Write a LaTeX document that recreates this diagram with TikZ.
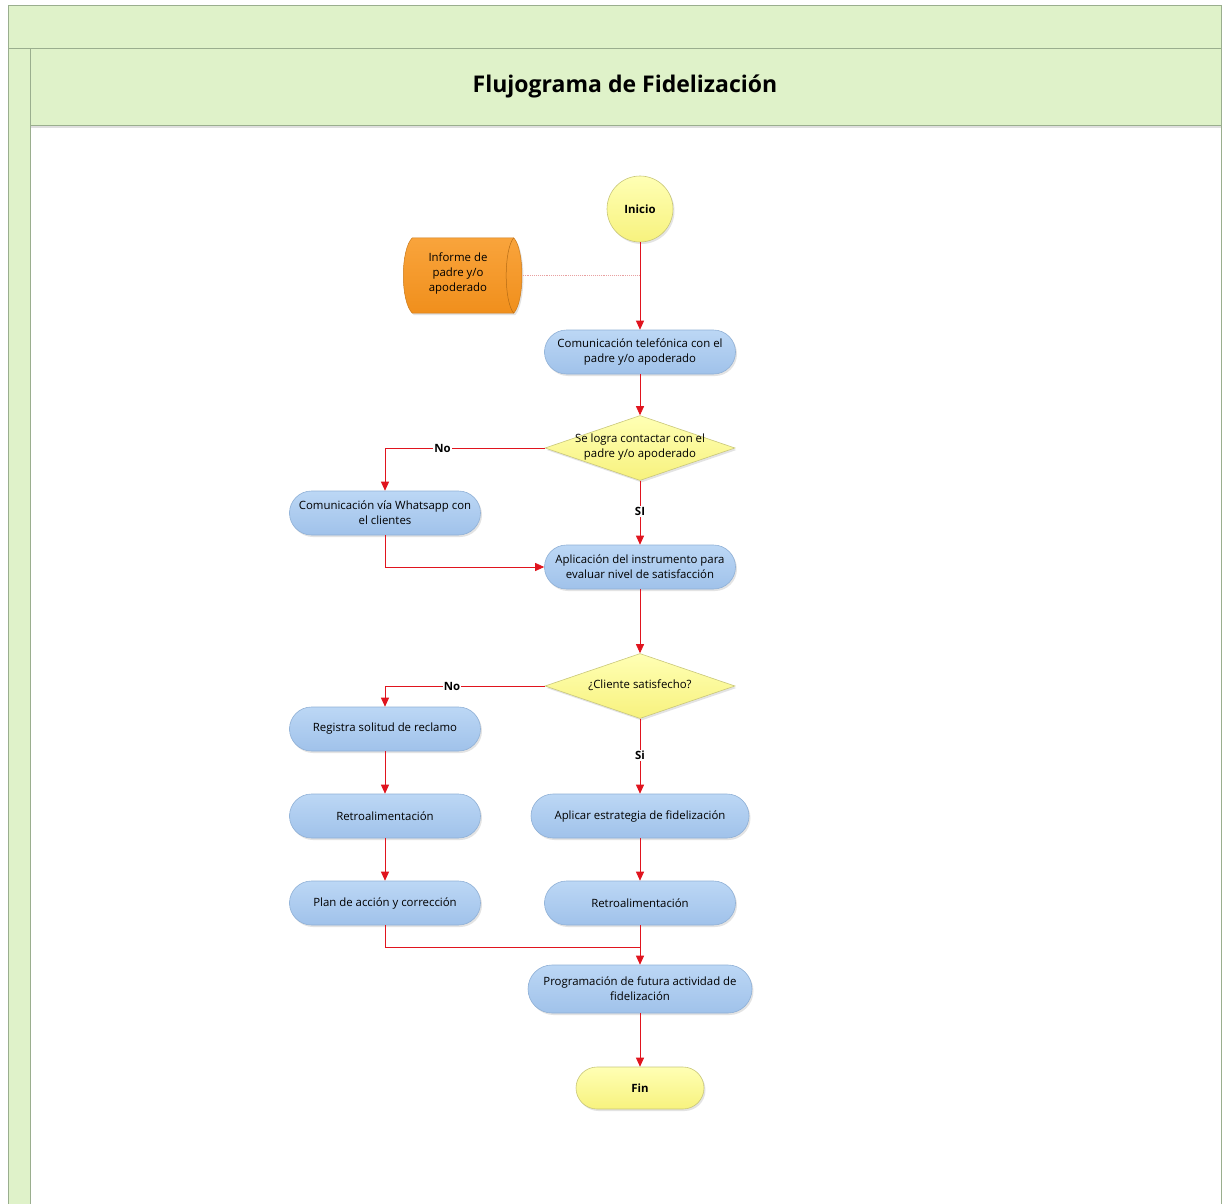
\documentclass[tikz,border=0pt]{standalone}
\usepackage{fontspec}
\setmainfont{Open Sans}
\usetikzlibrary{shapes.geometric,arrows.meta,shadows,calc}

\definecolor{bandfill}{HTML}{DFF2C9}
\definecolor{bandline}{HTML}{9AAE8E}
\definecolor{blueT}{HTML}{BCD7F5}
\definecolor{blueB}{HTML}{A0C2EA}
\definecolor{blueline}{HTML}{8FB0D6}
\definecolor{yelT}{HTML}{FFFFB4}
\definecolor{yelB}{HTML}{F7F27E}
\definecolor{yelline}{HTML}{C9C77A}
\definecolor{orT}{HTML}{F9A43C}
\definecolor{orB}{HTML}{F08F1C}
\definecolor{flowred}{HTML}{E0141E}
\definecolor{dotpink}{HTML}{E8A0A0}

\newcommand{\boxfont}{\fontsize{11.4}{15}\selectfont}

\tikzset{
  softshadow/.style={drop shadow={opacity=0.22, shadow xshift=1.5pt, shadow yshift=-2pt}},
  procbox/.style={rectangle, rounded corners=22pt, minimum width=191pt, minimum height=44pt,
    top color=blueT, bottom color=blueB, draw=blueline, line width=0.6pt, softshadow,
    align=center, font=\boxfont, inner sep=2pt},
  termbox/.style={rectangle, rounded corners=21pt, minimum width=128pt, minimum height=42pt,
    top color=yelT, bottom color=yelB, draw=yelline, line width=0.6pt, softshadow,
    font=\boxfont\bfseries},
  startcirc/.style={circle, minimum size=66pt, inner sep=0pt,
    top color=yelT, bottom color=yelB, draw=yelline, line width=0.6pt, softshadow,
    font=\boxfont\bfseries},
  decision/.style={diamond, minimum width=190pt, minimum height=65pt, inner sep=0pt,
    top color=yelT, bottom color=yelB, draw=yelline, line width=0.6pt, softshadow},
  dtext/.style={align=center, font=\boxfont, inner sep=0pt},
  flow/.style={draw=flowred, line width=0.8pt, -{Triangle[width=8pt,length=9pt]}},
  plainflow/.style={draw=flowred, line width=0.8pt},
  dotlink/.style={draw=dotpink, line width=0.9pt, densely dotted},
  lbl/.style={fill=white, inner sep=1pt, font=\boxfont\bfseries},
}

\begin{document}
\begin{tikzpicture}[x=1pt,y=-1pt]
\useasboundingbox (0,0) rectangle (1226,1204);

% swimlane frame
\fill[white] (0,0) rectangle (1226,1204);
\fill[bandfill] (8,5) rectangle (1221,48);
\fill[bandfill] (8,48) rectangle (30,1204);
\fill[gray!25] (30,125) rectangle (1221,128);
\fill[bandfill] (30,48) rectangle (1221,125);
\draw[bandline, line width=0.8pt] (8,1204) -- (8,5) -- (1221,5) -- (1221,1204);
\draw[bandline, line width=0.8pt] (8,48) -- (1221,48);
\draw[bandline, line width=0.8pt] (30,1204) -- (30,48);
\draw[bandline, line width=0.8pt] (30,125) -- (1221,125);
\node[font=\fontsize{23}{27}\selectfont\bfseries] (title) at (625,86) {Flujograma de Fidelización};

% nodes
\node[startcirc] (inicio) at (640,209) {Inicio};

\node[minimum width=120pt, minimum height=75pt, inner sep=0pt] (store) at (462.5,275.5) {};
\path[top color=orT, bottom color=orB, draw=orB!85!black, line width=0.5pt, softshadow]
  ($(store.north west)+(10,0)$) -- ($(store.north east)+(-9,0)$)
  .. controls ($(store.north east)+(2,12)$) and ($(store.south east)+(2,-12)$) .. ($(store.south east)+(-9,0)$)
  -- ($(store.south west)+(10,0)$)
  .. controls ($(store.south west)+(-2,-12)$) and ($(store.north west)+(-2,12)$) .. cycle;
\draw[orB!75!black, line width=0.5pt]
  ($(store.north east)+(-9,0)$) .. controls ($(store.north east)+(-19,12)$) and ($(store.south east)+(-19,-12)$) .. ($(store.south east)+(-9,0)$);
\node[align=center, font=\boxfont, inner sep=0pt] (storetxt) at (458,274) {Informe de\\padre y/o\\apoderado};

\node[procbox] (tel) at (640,352) {Comunicación telefónica con el\\padre y/o apoderado};
\node[decision] (d1) at (640,448) {};
\node[dtext] (d1t) at (640,447) {Se logra contactar con el\\padre y/o apoderado};
\node[procbox] (wa) at (385,513) {Comunicación vía Whatsapp con\\el clientes};
\node[procbox] (app) at (640,567) {Aplicación del instrumento para\\evaluar nivel de satisfacción};
\node[decision] (d2) at (640,686) {};
\node[dtext] (d2t) at (640,685) {¿Cliente satisfecho?};
\node[procbox] (reg) at (385,729) {Registra solitud de reclamo};
\node[procbox] (retroL) at (385,816) {Retroalimentación};
\node[procbox] (plan) at (385,903) {Plan de acción y corrección};
\node[procbox, minimum width=218pt] (est) at (640,816) {Aplicar estrategia de fidelización};
\node[procbox] (retroR) at (640,903) {Retroalimentación};
\node[procbox, minimum width=224pt, minimum height=48pt, rounded corners=24pt] (prog) at (640,989)
  {Programación de futura actividad de\\fidelización};
\node[termbox] (fin) at (640,1088) {Fin};

% connectors
\draw[dotlink] (store.east) -- (store.east -| inicio.south);
\draw[flow] (inicio.south) -- (tel.north);
\draw[flow] (tel.south) -- (d1.north);
\draw[flow] (d1.west) -| node[lbl, pos=0.32] {No} (wa.north);
\draw[flow] (d1.south) -- node[lbl, pos=0.48] {SI} (app.north);
\draw[flow] (wa.south) |- (app.west);
\draw[flow] (app.south) -- (d2.north);
\draw[flow] (d2.west) -| node[lbl, pos=0.29] {No} (reg.north);
\draw[flow] (d2.south) -- node[lbl, pos=0.49] {Si} (est.north);
\draw[flow] (reg.south) -- (retroL.north);
\draw[flow] (retroL.south) -- (plan.north);
\draw[flow] (est.south) -- (retroR.north);
\coordinate (join) at ($(retroR.south)!0.55!(prog.north)$);
\draw[plainflow] (plan.south) |- (join);
\draw[flow] (retroR.south) -- (prog.north);
\draw[flow] (prog.south) -- (fin.north);
\end{tikzpicture}
\end{document}
